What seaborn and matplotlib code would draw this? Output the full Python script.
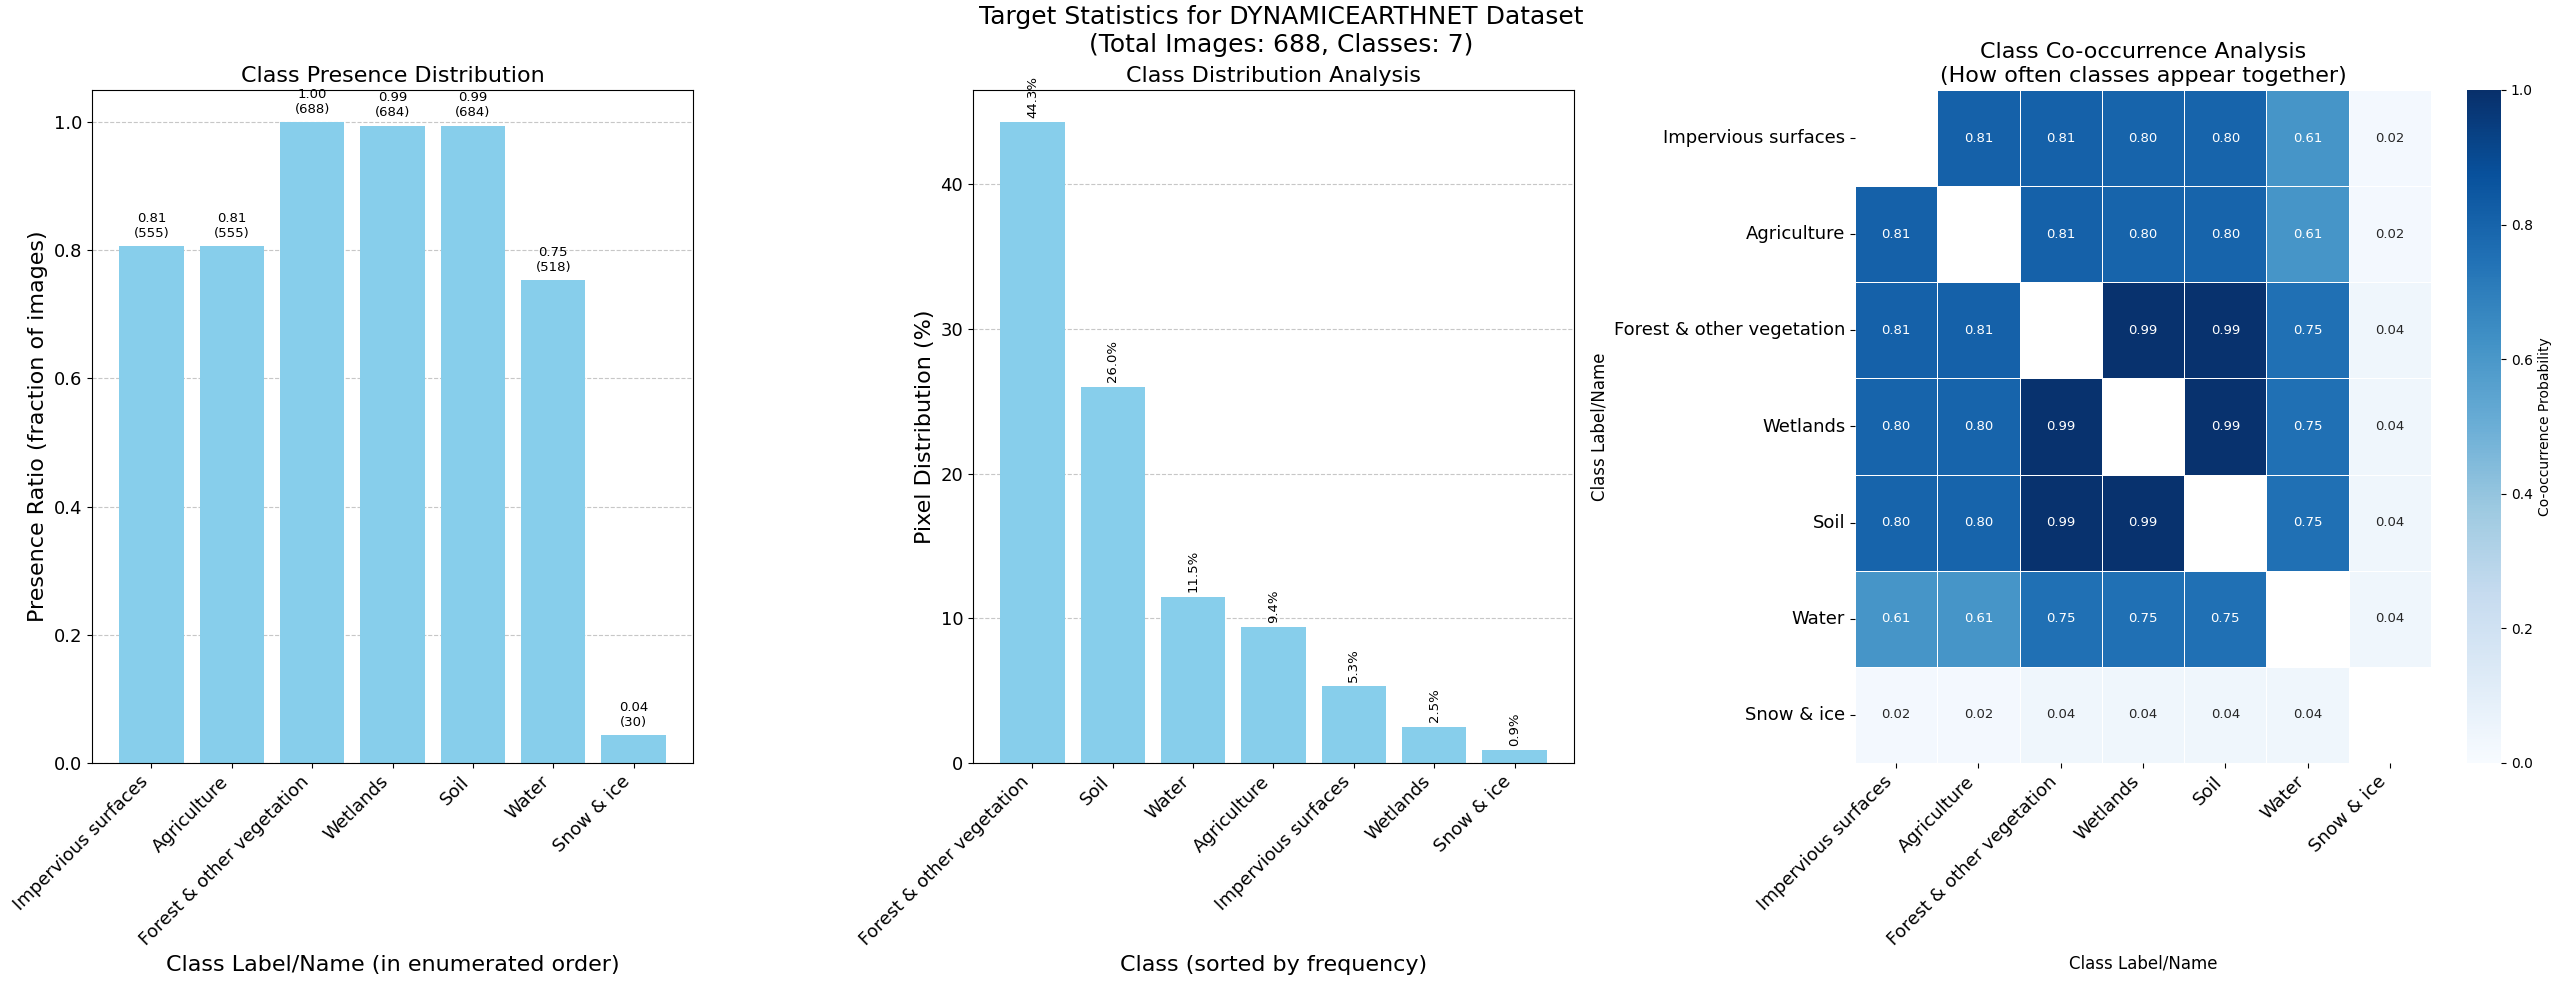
import numpy as np
import matplotlib
matplotlib.use("Agg")
import matplotlib.pyplot as plt
import seaborn as sns

# class names in enumerated order
class_names = ['Impervious surfaces', 'Agriculture', 'Forest & other vegetation',
               'Wetlands', 'Soil', 'Water', 'Snow & ice']
total_images = 688
presence_counts = [555, 555, 688, 684, 684, 518, 30]

# pixel distribution, sorted by frequency
sorted_names = ['Forest & other vegetation', 'Soil', 'Water', 'Agriculture',
                'Impervious surfaces', 'Wetlands', 'Snow & ice']
pixel_pct = [44.3, 26.0, 11.5, 9.4, 5.3, 2.5, 0.9]

# co-occurrence probabilities (diagonal masked)
cooc = [
    [0.00, 0.81, 0.81, 0.80, 0.80, 0.61, 0.02],
    [0.81, 0.00, 0.81, 0.80, 0.80, 0.61, 0.02],
    [0.81, 0.81, 0.00, 0.99, 0.99, 0.75, 0.04],
    [0.80, 0.80, 0.99, 0.00, 0.99, 0.75, 0.04],
    [0.80, 0.80, 0.99, 0.99, 0.00, 0.75, 0.04],
    [0.61, 0.61, 0.75, 0.75, 0.75, 0.00, 0.04],
    [0.02, 0.02, 0.04, 0.04, 0.04, 0.04, 0.00],
]

W, H = 2562, 985
fig = plt.figure(figsize=(W / 100, H / 100), dpi=100)
bot, hgt = (H - 763) / H, 673 / H
ax1 = fig.add_axes([92 / W, bot, 601 / W, hgt])
ax2 = fig.add_axes([973 / W, bot, 601 / W, hgt])
ax3 = fig.add_axes([1855 / W, bot, 576 / W, hgt])
cax = fig.add_axes([2467 / W, bot, 34 / W, hgt])

fig.suptitle(f'Target Statistics for DYNAMICEARTHNET Dataset\n'
             f'(Total Images: {total_images}, Classes: {len(class_names)})',
             fontsize=18, y=0.995, va='top')

# --- presence distribution
ratios = np.array(presence_counts) / total_images
sns.barplot(x=class_names, y=ratios, color='skyblue', saturation=1, ax=ax1)
ax1.autoscale(enable=True, axis='x')
ax1.set_ylim(0, 1.05)
for i, (r, c) in enumerate(zip(ratios, presence_counts)):
    ax1.text(i, r + 0.01, f'{r:.2f}\n({c})', ha='center', va='bottom', fontsize=9.5)
ax1.set_title('Class Presence Distribution', fontsize=16)
ax1.set_xlabel('Class Label/Name (in enumerated order)', fontsize=16)
ax1.set_ylabel('Presence Ratio (fraction of images)', fontsize=16)
ax1.grid(axis='y', linestyle='--', alpha=0.7)
ax1.set_axisbelow(True)
ax1.tick_params(axis='both', labelsize=13)
plt.setp(ax1.get_xticklabels(), rotation=45, ha='right', rotation_mode='default')

# --- pixel distribution
sns.barplot(x=sorted_names, y=pixel_pct, color='skyblue', saturation=1, ax=ax2)
ax2.autoscale(enable=True, axis='x')
for i, p in enumerate(pixel_pct):
    ax2.text(i, p + 0.3, f'{p:.1f}%', ha='center', va='bottom', rotation=90, fontsize=9.5)
ax2.set_title('Class Distribution Analysis', fontsize=16)
ax2.set_xlabel('Class (sorted by frequency)', fontsize=16)
ax2.set_ylabel('Pixel Distribution (%)', fontsize=16)
ax2.grid(axis='y', linestyle='--', alpha=0.7)
ax2.set_axisbelow(True)
ax2.tick_params(axis='both', labelsize=13)
plt.setp(ax2.get_xticklabels(), rotation=45, ha='right')

# --- co-occurrence heatmap
mat = np.array(cooc)
mask = np.eye(len(class_names), dtype=bool)
sns.heatmap(mat, mask=mask, annot=True, fmt='.2f', cmap='Blues', vmin=0, vmax=1,
            linewidths=0.5, linecolor='white', ax=ax3, cbar_ax=cax,
            xticklabels=class_names, yticklabels=class_names,
            annot_kws={'size': 9.5},
            cbar_kws={'label': 'Co-occurrence Probability'})
ax3.set_title('Class Co-occurrence Analysis\n(How often classes appear together)', fontsize=16)
ax3.set_xlabel('Class Label/Name', fontsize=12)
ax3.set_ylabel('Class Label/Name', fontsize=12)
ax3.tick_params(axis='both', labelsize=13)
plt.setp(ax3.get_xticklabels(), rotation=45, ha='right')
plt.setp(ax3.get_yticklabels(), rotation=0)
cax.tick_params(labelsize=10)
cax.yaxis.label.set_size(10)

fig.savefig('out.png', dpi=100)
